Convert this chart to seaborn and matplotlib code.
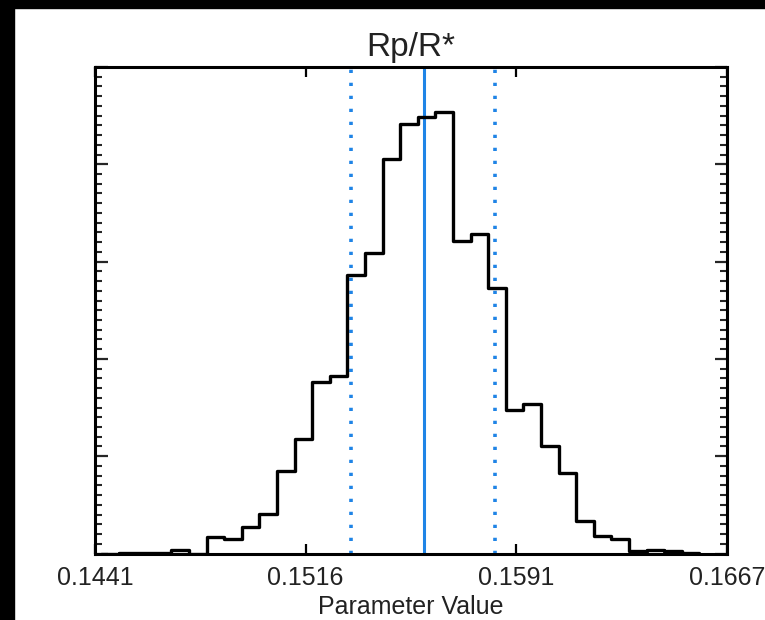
import numpy as np
import pandas as pd
import matplotlib
matplotlib.use("Agg")
import matplotlib.pyplot as plt
from matplotlib.patches import Rectangle
from matplotlib.ticker import MultipleLocator
import seaborn as sns

# ---- data ----
title = "Rp/R*"
xlabel = "Parameter Value"
x_range = (0.1441, 0.1667)
xtick_labels = ["0.1441", "0.1516", "0.1591", "0.1667"]

bin_lo = 0.144318
bin_hi = 0.165709
counts = [0.0, 0.01, 0.005, 0.005, 0.04, 0.0,
          0.167, 0.154, 0.277, 0.41, 0.845, 1.18, 1.76, 1.82,
          2.86, 3.09, 4.05, 4.41, 4.49, 4.54, 3.21, 3.28, 2.73,
          1.47, 1.54, 1.10, 0.83, 0.33, 0.175, 0.144,
          0.024, 0.041, 0.024, 0.005]
median_val = 0.155865
lower_val = 0.153244
upper_val = 0.158403

# ---- style ----
sns.set_style("ticks")
plt.rcParams["font.family"] = ["Liberation Sans", "DejaVu Sans"]
text_col = "#222222"
blue = "#1f84e6"

fig = plt.figure(figsize=(7.65, 6.2), dpi=100)
ax = fig.add_axes([95 / 765, 1 - 553.5 / 620, 632 / 765, 486.5 / 620])

edges = np.linspace(bin_lo, bin_hi, len(counts) + 1)
centers = 0.5 * (edges[:-1] + edges[1:])
df = pd.DataFrame({"value": centers, "weight": counts})
sns.histplot(data=df, x="value", weights="weight", bins=edges.tolist(),
             element="step", fill=False, color="black", linewidth=2.4, ax=ax)

ax.axvline(median_val, color=blue, lw=2.2, zorder=1)
for v in (lower_val, upper_val):
    ax.axvline(v, color=blue, lw=2.6, linestyle=(0, (0.9, 2.7)), zorder=1)

ax.set_xlim(*x_range)
ax.set_ylim(0, 5)
ax.set_xticks(np.linspace(x_range[0], x_range[1], 4))
ax.set_xticklabels(xtick_labels)
ax.yaxis.set_major_locator(MultipleLocator(1))
ax.yaxis.set_minor_locator(MultipleLocator(0.1))
ax.set_ylabel("")
ax.tick_params(axis="x", which="major", direction="in", top=True, bottom=True,
               length=7, width=1.6, labelsize=18, pad=9, colors="black",
               labelcolor=text_col)
ax.tick_params(axis="x", which="minor", bottom=False, top=False)
ax.tick_params(axis="y", which="major", direction="in", left=True, right=True,
               length=9, width=1.6, labelleft=False)
ax.tick_params(axis="y", which="minor", direction="in", left=True, right=True,
               length=4.8, width=1.5)
for s in ax.spines.values():
    s.set_linewidth(2.2)
    s.set_color("black")
    s.set_visible(True)

ax.set_xlabel(xlabel, fontsize=18, color=text_col, labelpad=3.5)
ax.set_title(title, fontsize=24, color=text_col, pad=8)

# black frame strips at left and top of the image
fig.patches.append(Rectangle((0, 0), 14 / 765, 1, transform=fig.transFigure,
                             color="black", zorder=10))
fig.patches.append(Rectangle((0, 1 - 8 / 620), 1, 8 / 620,
                             transform=fig.transFigure, color="black", zorder=10))

fig.savefig("out.png", dpi=100)
